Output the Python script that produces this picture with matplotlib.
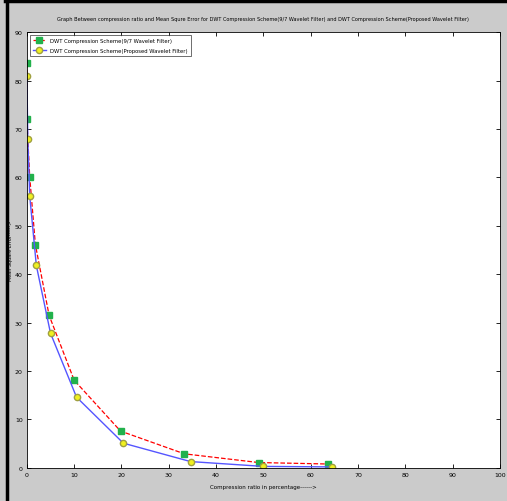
import matplotlib
matplotlib.use('Agg')
import matplotlib.pyplot as plt
from matplotlib.lines import Line2D

# values
x_97 = [0, 0, 0.6, 1.8, 4.7, 10, 19.8, 33.3, 49, 63.6]
mse_97 = [83.6, 72.0, 60.1, 46.1, 31.5, 18.1, 7.6, 2.9, 1.1, 0.8]
x_prop = [0, 0.2, 0.6, 2.0, 5.0, 10.5, 20.4, 34.6, 50, 64.5]
mse_prop = [81.0, 67.9, 56.2, 41.8, 27.8, 14.6, 5.1, 1.3, 0.3, 0.2]
xticks = list(range(0, 101, 10))
yticks = list(range(0, 91, 10))

title = ("Graph Between compression ratio and Mean Squre Error for DWT Compression "
         "Scheme(9/7 Wavelet Filter) and DWT Compression Scheme(Proposed Wavelet Filter)")

fig = plt.figure(figsize=(5.07, 5.02), dpi=100, facecolor='#cbcbcb')
ax = fig.add_axes([0.053, 0.066, 0.933, 0.868])

ax.plot(x_97, mse_97, 'r--', lw=0.9, marker='s', ms=4.5, mfc='#22b14c', mec='#22b14c',
        label='DWT Compression Scheme(9/7 Wavelet Filter)')
ax.plot(x_prop, mse_prop, '-', color='#5555ff', lw=1.0, marker='o', ms=4.5,
        mfc='#f0f020', mec='#a0a040', label='DWT Compression Scheme(Proposed Wavelet Filter)')

ax.set_xlim(0, 100)
ax.set_ylim(0, 90)
ax.set_xticks(xticks)
ax.set_yticks(yticks)
ax.tick_params(direction='in', top=True, right=True, labelsize=4.5, length=3, width=0.6, pad=3)
for s in ax.spines.values():
    s.set_linewidth(0.6)

ax.set_title(title, fontsize=3.6, pad=9)
ax.set_xlabel('Compression ratio in percentage------>', fontsize=4, labelpad=5)
ax.set_ylabel('Mean Square Error------>', fontsize=3.5, labelpad=1)

leg = ax.legend(loc='upper left', fontsize=3.8, frameon=True, fancybox=False,
                edgecolor='black', borderpad=0.6, handlelength=2.5, labelspacing=1.0)
leg.get_frame().set_linewidth(0.5)

# dark frame on the left and top of the picture
fig.add_artist(Line2D([0.013, 0.013], [0, 1], color='black', lw=2.5, transform=fig.transFigure))
fig.add_artist(Line2D([0.01, 1], [0.996, 0.996], color='black', lw=2.5, transform=fig.transFigure))

fig.savefig('out.png', dpi=100, facecolor=fig.get_facecolor())
